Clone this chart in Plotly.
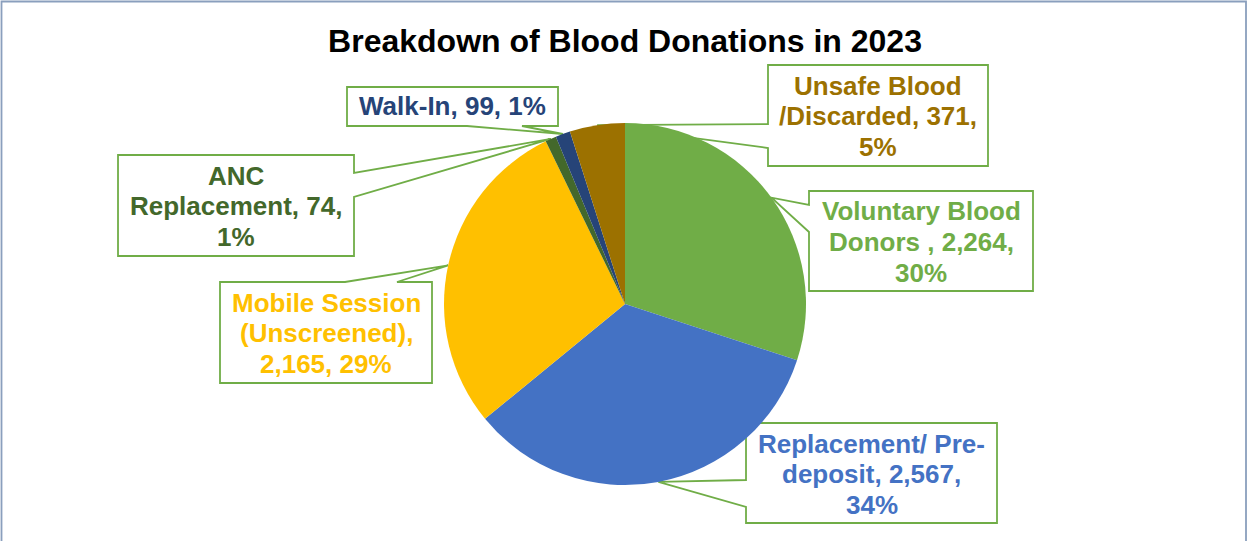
import numpy as np
import plotly.graph_objects as go

# ---- data ----
categories = ["Voluntary Blood Donors ", "Replacement/ Pre-deposit", "Mobile Session (Unscreened)",
              "ANC Replacement", "Walk-In", "Unsafe Blood /Discarded"]
values = [2264, 2567, 2165, 74, 99, 371]
label_templates = [
    "Voluntary Blood|Donors , {v},|{p}",
    "Replacement/ Pre-|deposit, {v},|{p}",
    "Mobile Session|(Unscreened),|{v}, {p}",
    "ANC|Replacement, {v},|{p}",
    "Walk-In, {v}, {p}",
    "Unsafe Blood|/Discarded, {v},|{p}",
]
colors = ["#70AD47", "#4472C4", "#FFC000", "#43682B", "#264478", "#9C7100"]
title_text = "Breakdown of Blood Donations in 2023"

# ---- layout geometry (pixels) ----
W, H = 1249, 541
CX, CY, R = 625, 304, 181
# box: left, top, right, bottom, notch side, notch base positions
boxes = [
    (809, 191, 1033, 291, "left", (205, 232)),
    (746, 423, 997, 523, "left", (480, 507)),
    (220, 282, 432, 383, "top", (345, 397)),
    (118, 155, 354, 256, "right", (173, 197)),
    (347, 87, 558, 126, "bottom", (467, 522)),
    (768, 65, 988, 166, "left", (124, 148)),
]
GREEN = "#70AD47"
FONT = "Liberation Sans, Arial, sans-serif"
FS = 26


def px(x):
    return x / W


def py(y):
    return 1 - y / H


total = sum(values)
cum = np.cumsum([0] + values)
mids = (cum[:-1] + cum[1:]) / 2 / total * 2 * np.pi  # clockwise from 12 o'clock

fig = go.Figure()
fig.add_trace(go.Pie(
    labels=categories, values=values, sort=False, direction="clockwise", rotation=0,
    marker=dict(colors=colors, line=dict(width=0)), textinfo="none", hoverinfo="label+value+percent",
    domain=dict(x=[px(CX - R), px(CX + R)], y=[py(CY + R), py(CY - R)]), showlegend=False,
))

shapes = []
annotations = []
for i, (l, t, r, b, side, base) in enumerate(boxes):
    tx = CX + R * np.sin(mids[i])
    ty = CY - R * np.cos(mids[i])
    if side == "left":
        pts = [(l, t), (r, t), (r, b), (l, b), (l, base[1]), (tx, ty), (l, base[0])]
    elif side == "right":
        pts = [(l, t), (r, t), (r, base[0]), (tx, ty), (r, base[1]), (r, b), (l, b)]
    elif side == "top":
        pts = [(l, t), (base[0], t), (tx, ty), (base[1], t), (r, t), (r, b), (l, b)]
    else:
        pts = [(l, t), (r, t), (r, b), (base[1], b), (tx, ty), (base[0], b), (l, b)]
    path = "M " + " L ".join(f"{px(x):.5f},{py(y):.5f}" for x, y in pts) + " Z"
    shapes.append(dict(type="path", path=path, xref="paper", yref="paper",
                       line=dict(color=GREEN, width=1.8), fillcolor="white", layer="below"))
    pct = f"{round(values[i] / total * 100):.0f}%"
    lines = label_templates[i].format(v=f"{values[i]:,}", p=pct).split("|")
    if len(lines) == 1:
        ys = [(t + b) / 2]
    else:
        ys = [t + 20.5, t + 51, t + 81.5]
    for line, yy in zip(lines, ys):
        annotations.append(dict(text=f"<b>{line}</b>", x=px((l + r) / 2), y=py(yy), xref="paper", yref="paper",
                                xanchor="center", yanchor="middle", showarrow=False,
                                font=dict(family=FONT, size=FS, color=colors[i])))

# outer frame
shapes.append(dict(type="rect", xref="paper", yref="paper", x0=px(1.5), x1=px(1246), y0=-0.05, y1=py(1.5),
                   line=dict(color="#8A9FBD", width=1.8), fillcolor="rgba(0,0,0,0)", layer="above"))

fig.update_layout(
    width=W, height=H, margin=dict(l=0, r=0, t=0, b=0),
    paper_bgcolor="white", plot_bgcolor="white",
    title=dict(text=f"<b>{title_text}</b>", x=px(625), xanchor="center", y=py(41), yanchor="middle",
               yref="container", font=dict(family=FONT, size=32, color="black")),
    shapes=shapes, annotations=annotations,
)

fig.write_html("out.html")
